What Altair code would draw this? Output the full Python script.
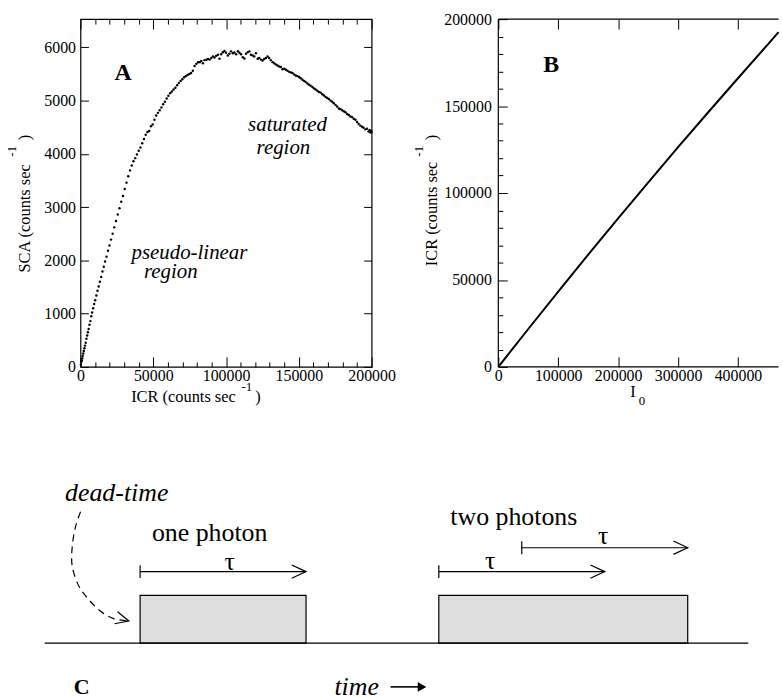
import altair as alt
import pandas as pd

FONT = "Liberation Serif"

# ---------------- Panel A : SCA vs ICR ----------------
a_points = [
    (300, 40), (600, 95), (900, 120), (1200, 160), (1500, 205), (1900, 250), (2300, 300),
    (2700, 350), (3100, 400), (3600, 455), (4100, 530), (4600, 590), (5100, 650), (5600, 710),
    (6200, 790), (6800, 860), (7400, 950), (8000, 1020), (8700, 1100), (9400, 1180),
    (10100, 1250), (10900, 1340), (11700, 1430), (12500, 1510), (13300, 1600), (14200, 1690),
    (15100, 1790), (16000, 1880), (16900, 1980), (17900, 2070), (18900, 2180), (19900, 2280),
    (21000, 2390), (22100, 2500), (23200, 2620), (24400, 2740), (25600, 2860), (26800, 2980),
    (28000, 3100), (29200, 3210), (30400, 3340), (31600, 3460), (32800, 3580), (34000, 3690),
    (35200, 3780), (36400, 3860), (37600, 3920), (38800, 3990), (40000, 4060), (41200, 4120),
    (42400, 4200), (43600, 4280), (44800, 4360), (46000, 4410), (47200, 4430), (48400, 4520),
    (49600, 4550), (50800, 4640), (52000, 4720), (53200, 4770), (54400, 4820), (55600, 4870),
    (56800, 4930), (58000, 4980), (59200, 5040), (60400, 5090), (61600, 5140), (62800, 5170),
    (64000, 5210), (65200, 5240), (66400, 5290), (67600, 5330), (68800, 5370), (70000, 5400),
    (71200, 5440), (72400, 5460), (73600, 5480), (74800, 5500), (76000, 5520), (77200, 5560),
    (78400, 5650), (79600, 5690), (80800, 5720), (81900, 5722), (83000, 5745), (84100, 5700),
    (85200, 5760), (86500, 5766), (87600, 5780), (88700, 5770), (89800, 5800), (91000, 5828),
    (92100, 5810), (93200, 5840), (94400, 5860), (95500, 5785), (96600, 5870), (97800, 5908),
    (98900, 5930), (100000, 5900), (101200, 5847), (102300, 5880), (103400, 5925), (104600, 5890),
    (105700, 5905), (106900, 5870), (108100, 5927), (109200, 5900), (110300, 5870), (111500, 5815),
    (112600, 5790), (113700, 5880), (114900, 5908), (116000, 5925), (117100, 5860), (118300, 5847),
    (119400, 5830), (120500, 5890), (121700, 5785), (122800, 5800), (124000, 5770), (125100, 5754),
    (126200, 5780), (127400, 5800), (128500, 5828), (129600, 5800), (130800, 5760), (132000, 5722),
    (133100, 5700), (134200, 5680), (135400, 5660), (136500, 5642), (137700, 5630), (138800, 5590),
    (140000, 5600), (141100, 5580), (142200, 5560), (143400, 5540), (144500, 5530), (145600, 5518),
    (146800, 5490), (147900, 5470), (149000, 5460), (150200, 5443), (151300, 5420), (152500, 5390),
    (153600, 5370), (154700, 5350), (155900, 5320), (157000, 5300), (158100, 5280), (159300, 5256),
    (160400, 5230), (161500, 5210), (162700, 5185), (163800, 5163), (165000, 5150), (166100, 5120),
    (167200, 5095), (168400, 5070), (169500, 5050), (170600, 5030), (171800, 5000), (172900, 4977),
    (174000, 4950), (175200, 4920), (176300, 4890), (177500, 4853), (178600, 4840), (179800, 4820),
    (180900, 4800), (182000, 4780), (183200, 4750), (184300, 4730), (185400, 4700), (186600, 4690),
    (187700, 4660), (188900, 4640), (190000, 4600), (191100, 4560), (192300, 4530), (193400, 4510),
    (194500, 4490), (195700, 4460), (196800, 4470), (197900, 4420), (198600, 4450), (199200, 4400),
    (199600, 4430), (200000, 4410),
]
a_x_major = [0, 50000, 100000, 150000, 200000]
a_x_minor = [10000, 20000, 30000, 40000, 60000, 70000, 80000, 90000,
             110000, 120000, 130000, 140000, 160000, 170000, 180000, 190000]
a_y_major = [0, 1000, 2000, 3000, 4000, 5000, 6000]
a_notes = ["saturated", "region", "pseudo-linear", "region"]
a_notes_icr = [142200, 139400, 74860, 62000]
a_notes_sca = [4539, 4105, 2146, 1772]

# ---------------- Panel B : ICR vs I0 ----------------
i0_b = [0, 50000, 100000, 150000, 200000, 250000, 300000, 350000, 400000, 450000, 467700]
icr_b = [0, 21800, 43300, 64500, 85400, 106000, 126400, 146300, 166000, 185500, 192500]
b_x_major = [0, 100000, 200000, 300000, 400000]
b_y_major = [0, 50000, 100000, 150000, 200000]
b_y_minor = [10000, 20000, 30000, 40000, 60000, 70000, 80000, 90000,
             110000, 120000, 130000, 140000, 160000, 170000, 180000, 190000]

# ---------------- Panel C : dead-time diagram (time in units of tau) ----------------
c_baseline = [-0.575, 3.665]
c_box_start = [0.0, 1.8]
c_box_end = [1.0, 3.3]
c_arrow_start = [0.0, 1.8, 2.3]
c_arrow_end = [1.0, 2.8, 3.3]
c_arrow_level = [1.5, 1.5, 2.0]
c_tau_t = [0.54, 2.11, 2.79]
c_tau_level = [1.70, 1.73, 2.24]
c_caption = ["one photon", "two photons"]
c_caption_t = [0.419, 2.252]
c_caption_level = [2.31, 2.65]
c_curve_t = [-0.359, -0.389, -0.409, -0.409, -0.369, -0.310, -0.240, -0.160, -0.075]
c_curve_level = [2.756, 2.444, 2.027, 1.610, 1.194, 0.917, 0.673, 0.515, 0.468]

CHEVRON = "M-1,-0.466L0,0L-1,0.466"
ONE = alt.Data(values=[{}])


def axis(orient, values, size, labels=False, **kw):
    d = dict(orient=orient, values=values, tickSize=size, offset=-size, domain=False,
             grid=False, ticks=True, tickColor="black", tickWidth=1, labels=labels,
             labelFont=FONT, labelFontSize=16, labelColor="black", labelFlush=False,
             labelOverlap=False, format="d", minExtent=0, title=None)
    d.update(kw)
    return alt.Axis(**d)


def label(text, x, y, size=16.5, angle=0, align="left"):
    """Axis-title text placed in panel pixels (axis titles with raised exponents)."""
    return alt.Chart(ONE).mark_text(
        text=text, font=FONT, fontSize=size, color="black", angle=angle,
        align=align, baseline="alphabetic").encode(x=alt.value(x), y=alt.value(y))


# ---------------- build A ----------------
dfA = pd.DataFrame({"ICR": [p[0] for p in a_points], "SCA": [p[1] for p in a_points]})
sxA = alt.Scale(domain=[0, 200000], nice=False, zero=False)
syA = alt.Scale(domain=[0, 6530], nice=False, zero=False)
baseA = alt.Chart(dfA)
ptsA = baseA.mark_circle(size=6, color="black", opacity=1).encode(
    x=alt.X("ICR:Q", scale=sxA, axis=axis("bottom", a_x_major, 10, labels=True, labelPadding=1)),
    y=alt.Y("SCA:Q", scale=syA, axis=axis("left", a_y_major, 8, labels=True, labelPadding=5)),
)
minA = baseA.mark_point(opacity=0).encode(
    x=alt.X("ICR:Q", scale=sxA, axis=axis("bottom", a_x_minor, 5)),
    y=alt.Y("SCA:Q", scale=syA, axis=None),
)
topA = baseA.mark_point(opacity=0).encode(
    x=alt.X("ICR:Q", scale=sxA, axis=axis("top", a_x_major, 10)),
    y=alt.Y("SCA:Q", scale=syA, axis=axis("right", a_y_major, 8)),
)
topMinA = baseA.mark_point(opacity=0).encode(
    x=alt.X("ICR:Q", scale=sxA, axis=axis("top", a_x_minor, 5)),
    y=alt.Y("SCA:Q", scale=syA, axis=None),
)
notesA = alt.Chart(pd.DataFrame({"ICR": a_notes_icr, "SCA": a_notes_sca, "t": a_notes})).mark_text(
    font=FONT, fontSize=21, fontStyle="italic", color="black").encode(
    x=alt.X("ICR:Q", scale=sxA, axis=None), y=alt.Y("SCA:Q", scale=syA, axis=None), text="t:N")
letterA = alt.Chart(pd.DataFrame({"ICR": [29350], "SCA": [5522], "t": ["A"]})).mark_text(
    font=FONT, fontSize=24, fontWeight="bold", color="black").encode(
    x=alt.X("ICR:Q", scale=sxA, axis=None), y=alt.Y("SCA:Q", scale=syA, axis=None), text="t:N")
titlesA = [
    label("ICR (counts sec", 51, 385),
    label("-1", 167.5, 374, size=13, align="center"),
    label(")", 176, 385),
    label("SCA (counts sec", -50.5, 255, angle=270),
    label("-1", -65, 133, size=13, angle=270, align="center"),
    label(")", -50.5, 122, angle=270),
]

chartA = alt.layer(ptsA, minA, topA, topMinA, notesA, letterA, *titlesA).resolve_axis(
    x="independent", y="independent").properties(
    width=293, height=350, view=alt.ViewBackground(stroke="black", strokeWidth=1.2))

# ---------------- build B ----------------
WB, HB = 282, 350
dfB = pd.DataFrame({"I0": i0_b, "ICRB": icr_b})
sxB = alt.Scale(domain=[0, 467700], nice=False, zero=False)
syB = alt.Scale(domain=[0, 200000], nice=False, zero=False)
baseB = alt.Chart(dfB)
lineB = baseB.mark_line(color="black", strokeWidth=2).encode(
    x=alt.X("I0:Q", scale=sxB, axis=axis("bottom", b_x_major, 10, labels=True, labelPadding=1)),
    y=alt.Y("ICRB:Q", scale=syB, axis=axis("left", b_y_major, 9, labels=True, labelPadding=7)),
)
minB = baseB.mark_point(opacity=0).encode(
    x=alt.X("I0:Q", scale=sxB, axis=None),
    y=alt.Y("ICRB:Q", scale=syB, axis=axis("left", b_y_minor, 4.5)),
)
topB = baseB.mark_point(opacity=0).encode(
    x=alt.X("I0:Q", scale=sxB, axis=axis("top", b_x_major, 10)),
    y=alt.Y("ICRB:Q", scale=syB, axis=None),
)
frameB = [
    alt.Chart(ONE).mark_rule(color="black", strokeWidth=1.2).encode(
        x=alt.value(0), x2=alt.value(WB), y=alt.value(0)),
    alt.Chart(ONE).mark_rule(color="black", strokeWidth=1.2).encode(
        x=alt.value(0), x2=alt.value(WB), y=alt.value(HB)),
    alt.Chart(ONE).mark_rule(color="black", strokeWidth=1.2).encode(
        x=alt.value(0), y=alt.value(0), y2=alt.value(HB)),
]
letterB = alt.Chart(pd.DataFrame({"I0": [88200], "ICRB": [173800], "t": ["B"]})).mark_text(
    font=FONT, fontSize=24, fontWeight="bold", color="black").encode(
    x=alt.X("I0:Q", scale=sxB, axis=None), y=alt.Y("ICRB:Q", scale=syB, axis=None), text="t:N")
titlesB = [
    label("I", 135.5, 380, align="center"),
    label("0", 144.5, 388, size=13, align="center"),
    label("ICR (counts sec", -62.2, 248.7, angle=270),
    label("-1", -75.5, 133, size=13, angle=270, align="center"),
    label(")", -62.2, 122, angle=270),
]

chartB = alt.layer(lineB, minB, topB, *frameB, letterB, *titlesB).resolve_axis(
    x="independent", y="independent").properties(width=WB, height=HB)

# ---------------- build C ----------------
sxC = alt.Scale(domain=[-0.3593, 3.8503], nice=False, zero=False)
syC = alt.Scale(domain=[-1.0833, 3.625], nice=False, zero=False)


def cx(f):
    return alt.X(f, type="quantitative", scale=sxC, axis=None)


def cy(f):
    return alt.Y(f, type="quantitative", scale=syC, axis=None)


boxes = alt.Chart(pd.DataFrame({"s": c_box_start, "e": c_box_end, "lo": [0, 0], "hi": [1, 1]})).mark_rect(
    fill="#dedede", stroke="black", strokeWidth=1.2).encode(x=cx("s"), x2="e", y=cy("lo"), y2="hi")
baseline = alt.Chart(pd.DataFrame({"s": [c_baseline[0]], "e": [c_baseline[1]], "l": [0]})).mark_rule(
    color="black", strokeWidth=1.3).encode(x=cx("s"), x2="e", y=cy("l"))
arrows_df = pd.DataFrame({"s": c_arrow_start, "e": c_arrow_end, "l": c_arrow_level})
arrow_lines = alt.Chart(arrows_df).mark_rule(color="black", strokeWidth=1.2).encode(
    x=cx("s"), x2="e", y=cy("l"))
arrow_ticks = alt.Chart(arrows_df).transform_calculate(
    lo="datum.l - 0.135", hi="datum.l + 0.135").mark_rule(color="black", strokeWidth=1.2).encode(
    x=cx("s"), y=cy("lo"), y2="hi")
arrow_heads = alt.Chart(arrows_df).mark_point(
    shape=CHEVRON, filled=False, size=829, stroke="black", strokeWidth=1.2, opacity=1).encode(
    x=cx("e"), y=cy("l"))
taus = alt.Chart(pd.DataFrame({"t": c_tau_t, "l": c_tau_level, "txt": ["τ"] * 3})).mark_text(
    font=FONT, fontSize=26, color="black").encode(x=cx("t"), y=cy("l"), text="txt:N")
captions = alt.Chart(pd.DataFrame({"t": c_caption_t, "l": c_caption_level, "txt": c_caption})).mark_text(
    font=FONT, fontSize=26, color="black").encode(x=cx("t"), y=cy("l"), text="txt:N")
curve = alt.Chart(pd.DataFrame({"t": c_curve_t, "l": c_curve_level, "o": list(range(len(c_curve_t)))})).mark_line(
    color="black", strokeWidth=1.2, strokeDash=[7, 5], interpolate="cardinal").encode(
    x=cx("t"), y=cy("l"), order="o:Q")
curve_head = alt.Chart(pd.DataFrame({"t": [-0.068], "l": [0.465]})).mark_point(
    shape=CHEVRON, filled=False, size=700, stroke="black", strokeWidth=1.2, opacity=1, angle=14).encode(
    x=cx("t"), y=cy("l"))
deadtime = alt.Chart(pd.DataFrame({"t": [-0.141], "l": [3.15], "txt": ["dead-time"]})).mark_text(
    font=FONT, fontSize=26, fontStyle="italic", color="black").encode(x=cx("t"), y=cy("l"), text="txt:N")
time_lbl = alt.Chart(pd.DataFrame({"t": [1.305], "l": [-0.917], "txt": ["time"]})).mark_text(
    font=FONT, fontSize=26, fontStyle="italic", color="black").encode(x=cx("t"), y=cy("l"), text="txt:N")
time_shaft = alt.Chart(pd.DataFrame({"s": [1.509], "e": [1.68], "l": [-0.917]})).mark_rule(
    color="black", strokeWidth=1.6).encode(x=cx("s"), x2="e", y=cy("l"))
time_head = alt.Chart(pd.DataFrame({"t": [1.699], "l": [-0.917]})).mark_point(
    shape="triangle-right", filled=True, size=100, color="black", opacity=1).encode(x=cx("t"), y=cy("l"))
letterC = alt.Chart(pd.DataFrame({"t": [-0.353], "l": [-0.917], "txt": ["C"]})).mark_text(
    font=FONT, fontSize=22, fontWeight="bold", color="black").encode(x=cx("t"), y=cy("l"), text="txt:N")

chartC = alt.layer(boxes, baseline, arrow_lines, arrow_ticks, arrow_heads, taus, captions,
                   curve, curve_head, deadtime, time_lbl, time_shaft, time_head, letterC).properties(
    width=703, height=226)

top = alt.hconcat(chartA, chartB, spacing=127.5, bounds="flush")
chart = alt.vconcat(top, chartC, spacing=61).properties(
    padding={"left": 5, "top": 8, "right": 0, "bottom": 0}
).configure_view(stroke="transparent")

chart.save("out.html", embed_options={"renderer": "svg", "actions": False})
